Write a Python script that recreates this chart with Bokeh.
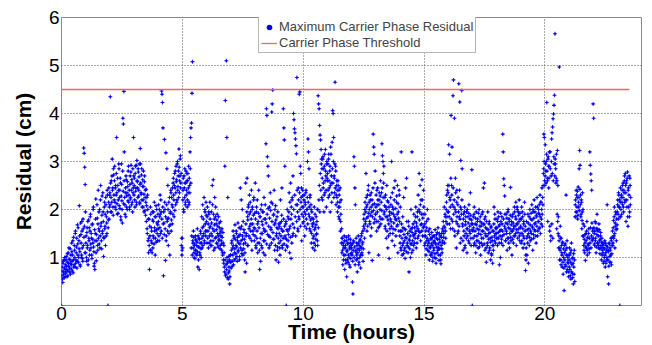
from bokeh.plotting import figure
from bokeh.models import Range1d, FixedTicker, Legend, LegendItem, ColumnDataSource
from bokeh.embed import file_html
from bokeh.resources import INLINE

# Maximum carrier phase residual (cm).
# Two interleaved series per hour, 50 samples each (a: on the 0.02 h grid, b: offset by 0.01 h)
h00 = [0.00, 0.72, 0.55, 0.88, 0.65, 0.95, 0.78, 0.60, 0.85, 0.70,
       1.02, 0.75, 0.90, 0.62, 1.10, 0.82, 0.97, 0.70, 1.18, 0.88,
       0.76, 1.30, 0.92, 1.05, 0.68, 1.42, 0.85, 1.15, 0.80, 1.55,
       0.95, 1.22, 0.78, 1.68, 1.05, 0.90, 1.35, 2.08, 1.12, 0.82,
       1.48, 1.00, 1.75, 1.20, 0.92, 1.60, 3.28, 3.17, 2.88, 2.52]
h01 = [1.10, 1.45, 0.92, 1.62, 1.25, 0.85, 1.78, 1.35, 1.05, 1.55,
       1.90, 1.20, 1.40, 0.98, 1.70, 1.30, 2.05, 1.12, 0.88, 0.75,
       1.50, 2.22, 0.93, 1.35, 1.82, 1.15, 2.40, 1.60, 1.28, 2.00,
       1.45, 2.50, 1.72, 1.18, 2.28, 1.55, 1.95, 1.02, 1.40, 2.15,
       1.65, 1.25, 2.10, 1.85, 1.50, 2.30, 0.00, 1.78, 2.45, 2.05]
h02 = [2.35, 4.35, 1.95, 2.60, 2.15, 3.05, 2.45, 1.88, 2.72, 2.20,
       2.90, 2.05, 2.50, 2.30, 3.50, 2.12, 2.65, 1.92, 2.40, 2.85,
       2.25, 2.02, 2.55, 1.78, 2.95, 2.18, 1.72, 3.90, 3.78, 4.46,
       3.20, 2.10, 2.35, 1.85, 2.62, 2.28, 2.00, 2.48, 2.80, 2.15,
       2.40, 2.05, 2.70, 2.25, 2.92, 2.10, 2.55, 1.95, 2.35, 3.50]
h03 = [2.30, 2.65, 2.05, 2.90, 2.45, 2.15, 3.02, 2.58, 2.25, 2.78,
       2.40, 2.95, 2.12, 3.27, 2.55, 2.32, 2.85, 2.05, 2.62, 2.20,
       2.48, 1.95, 2.70, 2.25, 1.88, 2.42, 2.08, 1.60, 2.30, 1.35,
       1.10, 1.80, 0.75, 1.45, 2.05, 1.15, 1.62, 1.30, 1.95, 1.20,
       1.75, 1.40, 2.15, 1.55, 1.05, 1.85, 1.32, 2.00, 1.50, 1.68]
h04 = [1.60, 2.10, 1.35, 1.85, 2.30, 1.50, 1.95, 4.47, 4.40, 4.23,
       3.70, 0.62, 1.72, 3.46, 2.00, 0.94, 3.18, 1.45, 2.85, 1.80,
       2.50, 1.25, 2.15, 1.65, 1.05, 1.92, 2.40, 1.55, 2.25, 1.70,
       2.05, 2.55, 2.30, 1.85, 2.75, 2.45, 2.10, 2.90, 2.62, 2.20,
       3.00, 2.48, 2.80, 3.26, 2.35, 2.70, 3.12, 2.55, 1.25, 1.05]
h05 = [1.40, 2.20, 2.65, 1.95, 2.45, 2.85, 2.10, 2.55, 2.30, 2.75,
       2.05, 2.60, 2.35, 2.90, 2.15, 2.50, 3.20, 3.50, 3.70, 3.80,
       4.42, 5.08, 1.30, 1.55, 1.10, 1.25, 0.98, 1.45, 1.15, 1.35,
       1.05, 1.60, 0.80, 1.22, 1.40, 0.75, 1.10, 1.30, 1.50, 1.00,
       1.85, 1.20, 2.10, 1.45, 1.65, 2.25, 1.30, 1.95, 1.55, 2.15]
h06 = [1.75, 1.30, 2.05, 1.55, 1.20, 1.90, 1.45, 2.15, 1.65, 1.35,
       1.95, 1.25, 2.50, 1.60, 2.62, 1.15, 1.80, 2.25, 1.40, 2.05,
       1.70, 1.30, 1.90, 1.50, 1.22, 1.85, 1.38, 1.62, 1.18, 1.75,
       1.45, 1.28, 1.60, 1.10, 1.52, 0.95, 1.25, 0.80, 2.90, 4.27,
       0.65, 5.10, 3.50, 0.88, 2.25, 0.55, 1.02, 0.72, 0.45, 0.90]
h07 = [1.05, 0.78, 1.30, 0.92, 1.20, 1.55, 0.85, 1.40, 1.10, 1.68,
       0.98, 1.25, 1.50, 1.02, 1.35, 1.72, 1.15, 1.45, 0.95, 1.28,
       2.45, 1.60, 2.20, 1.08, 2.00, 1.38, 1.75, 1.18, 1.52, 0.95,
       0.70, 2.55, 1.45, 0.88, 2.65, 1.85, 1.25, 2.10, 1.60, 2.30,
       1.40, 1.95, 1.70, 2.40, 1.15, 2.05, 1.55, 1.88, 2.25, 1.35]
h08 = [1.60, 2.55, 1.25, 1.95, 1.40, 2.20, 1.10, 1.75, 2.40, 1.30,
       0.75, 1.85, 0.92, 1.50, 2.10, 1.20, 1.68, 1.95, 1.35, 2.25,
       1.55, 1.05, 1.80, 3.37, 4.10, 3.96, 3.10, 2.90, 2.70, 1.45,
       2.05, 1.25, 2.35, 1.62, 2.15, 4.03, 4.20, 4.49, 1.38, 1.90,
       2.40, 1.15, 1.72, 2.08, 0.95, 1.50, 1.85, 1.22, 1.60, 0.90]
h09 = [1.30, 1.65, 1.05, 2.20, 1.45, 1.75, 2.45, 1.20, 1.55, 4.10,
       3.70, 3.45, 2.90, 1.40, 1.70, 0.00, 1.25, 2.00, 1.55, 1.35,
       1.80, 2.35, 1.10, 1.65, 2.55, 0.98, 1.90, 2.20, 1.45, 2.70,
       4.00, 3.87, 3.68, 3.60, 3.47, 3.33, 3.16, 4.75, 2.10, 1.60,
       2.45, 1.85, 4.40, 4.45, 2.90, 2.75, 2.25, 1.35, 2.05, 2.40]
h10 = [2.05, 1.75, 2.30, 1.45, 2.15, 1.90, 2.40, 1.60, 2.00, 3.00,
       3.47, 3.20, 2.85, 1.85, 2.25, 1.55, 2.10, 1.30, 1.95, 1.70,
       1.20, 1.80, 1.45, 2.05, 1.15, 1.62, 1.38, 1.85, 1.50, 2.00,
       1.25, 4.37, 4.20, 4.10, 3.75, 3.55, 3.45, 3.25, 3.05, 2.85,
       2.20, 3.10, 2.55, 1.95, 2.90, 2.35, 3.25, 2.70, 2.05, 3.00]
h11 = [2.60, 2.95, 2.25, 3.15, 2.45, 2.80, 1.95, 3.30, 2.55, 2.15,
       3.40, 4.06, 4.00, 3.50, 2.70, 2.35, 4.65, 2.90, 2.10, 2.50,
       2.25, 1.95, 2.60, 2.05, 2.40, 1.80, 2.15, 1.55, 1.90, 1.30,
       1.10, 1.40, 0.85, 1.25, 1.05, 1.45, 0.75, 1.20, 0.95, 1.35,
       0.60, 1.15, 1.30, 0.90, 1.45, 1.00, 1.22, 0.80, 1.38, 1.08]
h12 = [1.20, 1.05, 0.49, 0.24, 1.35, 3.10, 2.90, 2.45, 2.10, 1.15,
       0.95, 1.30, 0.70, 1.10, 1.45, 0.85, 1.25, 1.00, 1.38, 0.78,
       1.20, 1.50, 1.05, 1.32, 0.92, 1.65, 1.90, 1.40, 2.15, 1.75,
       2.75, 2.05, 1.55, 2.30, 1.85, 2.50, 1.10, 2.00, 1.70, 2.20,
       1.45, 2.35, 1.95, 0.94, 2.10, 3.57, 3.30, 3.15, 1.80, 2.80]
h13 = [1.90, 2.30, 1.55, 2.10, 2.45, 1.75, 1.05, 2.20, 1.65, 2.00,
       2.60, 1.80, 2.35, 3.37, 3.12, 3.00, 2.75, 2.90, 1.95, 2.25,
       1.60, 2.05, 1.40, 2.50, 1.85, 1.20, 2.15, 1.70, 0.98, 1.95,
       1.50, 2.25, 1.75, 3.00, 1.35, 2.05, 1.60, 1.90, 2.45, 1.25,
       2.60, 1.80, 1.45, 2.15, 1.65, 2.50, 1.10, 1.95, 1.55, 2.30]
h14 = [1.45, 2.05, 1.20, 3.20, 1.55, 1.05, 1.85, 1.30, 2.25, 1.15,
       1.60, 0.98, 2.45, 1.40, 2.65, 1.25, 1.50, 1.10, 1.75, 0.70,
       1.35, 1.55, 1.00, 2.00, 1.28, 3.20, 1.62, 1.15, 1.45, 1.90,
       1.30, 1.75, 1.50, 2.05, 1.20, 1.65, 1.85, 1.40, 2.30, 1.55,
       2.75, 1.95, 2.50, 1.35, 2.20, 1.70, 2.62, 1.45, 1.90, 2.40]
h15 = [1.65, 1.25, 1.90, 1.45, 1.05, 1.75, 1.35, 2.00, 1.15, 1.55,
       1.30, 0.95, 1.60, 1.20, 1.40, 1.05, 1.52, 1.25, 0.92, 1.45,
       1.15, 1.35, 1.00, 1.58, 1.28, 0.88, 1.48, 1.10, 1.38, 1.62,
       1.20, 0.94, 1.50, 1.32, 1.05, 0.87, 1.42, 1.18, 1.60, 1.30,
       1.75, 1.50, 2.05, 1.62, 1.85, 1.40, 2.00, 2.30, 1.70, 2.50]
h16 = [2.35, 3.35, 1.85, 3.15, 2.20, 1.60, 3.96, 2.50, 3.30, 1.75,
       4.37, 4.70, 2.05, 3.90, 1.45, 2.65, 1.95, 1.20, 2.40, 1.70,
       2.10, 1.55, 4.62, 1.85, 4.24, 1.30, 3.02, 2.00, 4.48, 2.85,
       1.65, 1.15, 1.90, 1.45, 2.05, 1.25, 1.75, 1.50, 1.95, 1.10,
       1.60, 1.85, 1.35, 2.10, 1.55, 1.80, 2.35, 1.40, 1.70, 2.83]
h17 = [0.00, 1.55, 1.85, 1.25, 2.05, 1.45, 1.70, 1.10, 1.95, 1.35,
       1.60, 1.80, 1.20, 1.50, 2.00, 1.30, 1.75, 1.05, 1.65, 1.40,
       1.90, 1.25, 1.55, 2.45, 1.70, 2.55, 1.15, 1.85, 1.45, 0.90,
       1.60, 1.30, 1.95, 1.10, 1.50, 1.75, 1.20, 1.40, 0.95, 1.65,
       1.05, 1.35, 0.88, 1.55, 1.25, 2.05, 1.45, 1.80, 1.30, 1.60]
h18 = [1.50, 1.80, 1.25, 1.95, 1.40, 1.65, 0.85, 1.55, 1.00, 1.75,
       1.30, 1.85, 1.45, 3.57, 3.20, 2.64, 2.50, 2.28, 1.60, 1.35,
       1.90, 1.50, 1.15, 1.70, 2.00, 1.40, 1.80, 1.20, 1.60, 2.46,
       1.35, 1.75, 1.05, 1.55, 1.90, 1.30, 1.65, 2.05, 1.45, 1.85,
       2.15, 1.25, 1.70, 2.00, 1.40, 1.95, 1.60, 2.20, 1.35, 1.80]
h19 = [1.65, 1.30, 2.05, 1.50, 1.85, 1.20, 1.70, 1.40, 2.15, 1.55,
       0.73, 0.95, 1.75, 1.05, 1.45, 1.90, 0.88, 1.60, 1.25, 2.00,
       1.35, 1.80, 1.50, 2.10, 1.65, 1.15, 1.95, 1.40, 2.20, 1.70,
       1.55, 2.05, 1.30, 1.85, 2.25, 1.45, 1.75, 2.00, 1.60, 1.90,
       2.30, 1.50, 2.15, 1.80, 2.45, 1.65, 2.10, 2.75, 3.57, 3.50]
h20 = [2.50, 3.35, 2.80, 3.00, 4.23, 2.65, 1.75, 3.10, 2.45, 2.90,
       1.55, 3.20, 1.35, 2.70, 3.47, 3.60, 3.72, 3.89, 3.99, 4.17,
       4.38, 5.66, 2.95, 2.55, 3.15, 2.60, 3.23, 2.50, 1.85, 1.45,
       4.97, 1.20, 1.65, 0.95, 1.40, 1.10, 0.80, 1.30, 0.65, 1.00,
       0.31, 1.25, 0.85, 1.15, 2.30, 0.70, 1.35, 0.90, 1.05, 0.60]
h21 = [0.95, 1.20, 0.75, 1.10, 0.55, 1.30, 0.85, 0.66, 1.00, 0.45,
       0.80, 1.15, 0.50, 2.10, 1.85, 2.40, 1.95, 2.25, 1.80, 2.47,
       2.05, 2.85, 3.23, 2.92, 2.30, 1.90, 2.15, 1.77, 2.35, 2.00,
       1.45, 1.15, 1.65, 1.30, 0.94, 1.50, 1.20, 1.75, 1.05, 1.40,
       1.25, 1.60, 1.10, 3.20, 2.92, 2.74, 2.60, 2.40, 1.35, 1.55]
h22 = [4.20, 3.90, 1.50, 1.25, 1.75, 1.40, 1.10, 1.60, 1.90, 1.30,
       1.55, 1.20, 1.70, 1.35, 1.08, 1.45, 1.25, 0.95, 1.40, 1.15,
       1.30, 0.88, 1.20, 1.00, 1.35, 0.80, 1.10, 1.25, 0.95, 2.10,
       0.60, 1.15, 0.45, 1.30, 0.90, 1.20, 1.05, 1.40, 0.85, 1.25,
       1.55, 1.30, 1.77, 1.45, 2.05, 1.20, 1.65, 1.90, 1.35, 1.60]
h23 = [1.95, 2.20, 1.80, 2.30, 2.05, 0.00, 2.15, 1.85, 2.25, 1.90,
       2.40, 2.10, 2.55, 1.95, 2.35, 2.70, 2.20, 2.50, 1.75, 2.60,
       2.05, 2.78, 1.65, 2.45, 2.30, 1.85, 2.65, 2.10]

h00b = [0.62, 0.80, 0.48, 0.92, 0.70, 0.58, 1.00, 0.75, 0.66, 0.95,
        0.82, 0.60, 1.08, 0.72, 0.88, 1.20, 0.78, 0.95, 0.65, 1.05,
        0.85, 1.12, 0.72, 1.35, 0.95, 0.80, 1.25, 1.00, 1.50, 0.88,
        1.10, 1.40, 0.92, 1.28, 1.62, 1.00, 1.18, 1.45, 0.85, 1.72,
        1.30, 1.05, 1.55, 0.98, 1.80, 1.25, 1.42, 1.65, 1.10, 1.95]
h01b = [1.30, 1.00, 1.52, 1.20, 1.75, 0.95, 1.40, 1.62, 1.15, 1.85,
        1.28, 1.50, 1.05, 1.68, 1.38, 2.00, 1.22, 0.82, 1.58, 1.35,
        1.80, 1.10, 1.48, 2.10, 1.25, 1.70, 1.40, 1.95, 1.55, 1.20,
        2.20, 1.65, 1.35, 1.88, 1.50, 2.35, 1.75, 1.42, 2.05, 1.60,
        1.90, 2.25, 1.45, 1.72, 2.40, 1.95, 1.62, 2.15, 1.80, 2.30]
h02b = [2.10, 2.55, 2.25, 1.95, 2.70, 2.40, 2.05, 2.85, 2.30, 2.60,
        2.15, 2.45, 2.00, 2.75, 2.35, 1.90, 2.50, 2.20, 2.95, 2.08,
        2.40, 2.65, 1.85, 2.28, 2.52, 2.00, 2.80, 2.38, 2.12, 2.60,
        2.25, 1.90, 2.45, 2.70, 2.05, 2.35, 2.58, 2.18, 2.90, 2.30,
        2.00, 2.52, 2.22, 2.78, 2.40, 2.62, 2.15, 2.85, 2.45, 2.70]
h03b = [2.50, 2.20, 2.75, 2.38, 2.92, 2.10, 2.60, 2.45, 2.85, 2.28,
        2.68, 2.15, 2.52, 2.95, 2.35, 2.72, 2.20, 2.48, 2.05, 2.80,
        2.32, 2.58, 1.98, 2.40, 2.15, 1.75, 2.25, 1.50, 2.00, 1.80,
        1.40, 1.25, 1.65, 1.15, 1.90, 1.35, 1.55, 1.10, 1.78, 1.45,
        1.95, 1.28, 1.62, 1.85, 1.40, 2.08, 1.58, 1.72, 1.35, 1.90]
h04b = [1.75, 1.45, 2.00, 1.62, 1.90, 2.20, 1.55, 1.80, 1.40, 2.05,
        1.70, 1.95, 1.48, 2.15, 1.60, 1.85, 1.35, 2.10, 1.75, 1.55,
        2.00, 1.82, 1.50, 2.25, 1.68, 1.95, 2.35, 1.78, 2.10, 2.45,
        1.90, 2.65, 2.20, 2.50, 1.98, 2.80, 2.35, 2.58, 2.15, 2.95,
        2.40, 2.70, 2.25, 2.88, 2.60, 3.05, 2.45, 2.75, 1.40, 1.15]
h05b = [1.20, 2.40, 2.00, 2.70, 2.25, 2.55, 2.15, 2.80, 2.40, 2.60,
        2.20, 2.75, 2.45, 2.10, 2.65, 2.35, 2.85, 2.55, 1.20, 1.45,
        1.05, 1.35, 1.20, 1.42, 1.00, 1.28, 1.15, 1.38, 1.08, 1.25,
        1.32, 1.12, 1.45, 0.95, 1.22, 1.38, 1.05, 1.55, 1.18, 1.30,
        1.40, 1.62, 1.25, 1.80, 1.50, 1.35, 2.00, 1.70, 1.45, 1.88]
h06b = [1.55, 1.85, 1.40, 1.70, 1.95, 1.30, 1.62, 1.80, 1.25, 1.50,
        1.72, 1.45, 2.10, 1.35, 1.90, 1.55, 1.68, 1.20, 1.85, 1.42,
        1.58, 1.78, 1.28, 1.65, 1.45, 1.35, 1.72, 1.50, 1.25, 1.55,
        1.35, 1.15, 1.42, 1.05, 1.30, 0.88, 1.10, 0.70, 0.95, 0.62,
        0.85, 0.75, 1.00, 0.58, 0.92, 0.68, 0.80, 0.95, 0.60, 1.05]
h07b = [0.90, 1.15, 1.35, 0.82, 1.05, 1.25, 1.45, 0.95, 1.18, 1.38,
        1.08, 1.55, 1.22, 0.92, 1.42, 1.12, 1.30, 1.62, 1.02, 1.48,
        1.20, 1.35, 1.65, 1.15, 1.45, 1.05, 1.28, 1.58, 1.38, 1.10,
        1.30, 1.70, 1.50, 1.95, 1.25, 1.78, 2.05, 1.45, 1.90, 1.65,
        2.15, 1.55, 1.80, 1.35, 2.00, 1.70, 1.48, 2.20, 1.62, 1.92]
h08b = [1.45, 1.80, 1.20, 2.05, 1.55, 1.70, 1.30, 1.92, 1.62, 1.15,
        1.85, 1.40, 2.00, 1.25, 1.75, 1.50, 1.95, 1.10, 1.60, 1.80,
        1.35, 2.10, 1.55, 1.72, 1.28, 1.90, 1.48, 2.02, 1.65, 1.20,
        1.82, 1.42, 1.98, 1.58, 1.30, 1.75, 2.12, 1.52, 1.88, 1.38,
        1.68, 2.00, 1.25, 1.78, 1.45, 1.62, 1.15, 1.95, 1.40, 1.70]
h09b = [1.50, 1.20, 1.72, 1.35, 1.60, 1.88, 1.25, 1.55, 1.40, 1.80,
        1.28, 1.65, 1.45, 1.15, 1.75, 1.38, 1.58, 1.22, 1.85, 1.48,
        1.95, 1.60, 2.15, 1.42, 1.80, 2.05, 1.30, 2.25, 1.70, 1.50,
        2.00, 1.62, 2.30, 1.85, 1.45, 2.10, 1.75, 2.40, 1.95, 1.55,
        2.20, 1.80, 2.35, 2.00, 1.65, 2.15, 2.45, 1.90, 2.28, 1.72]
h10b = [1.85, 2.20, 1.95, 1.65, 2.10, 2.35, 1.80, 2.00, 2.25, 1.70,
        2.15, 1.90, 2.05, 1.60, 2.30, 1.78, 2.00, 1.50, 1.82, 1.65,
        1.40, 1.72, 1.30, 1.58, 1.90, 1.25, 1.68, 1.48, 1.75, 1.35,
        2.00, 1.62, 2.20, 2.50, 1.95, 2.75, 2.40, 2.95, 2.25, 2.65,
        3.05, 2.45, 2.85, 2.30, 3.15, 2.60, 2.80, 2.40, 2.95, 2.65]
h11b = [2.75, 2.40, 3.05, 2.60, 2.30, 2.90, 2.50, 3.15, 2.70, 2.35,
        2.85, 2.55, 3.00, 2.25, 2.65, 2.95, 2.45, 2.80, 2.30, 2.60,
        2.40, 2.15, 2.50, 1.85, 2.30, 2.05, 2.45, 1.75, 2.20, 1.60,
        1.40, 1.15, 1.30, 0.95, 1.20, 1.35, 1.05, 1.25, 0.88, 1.42,
        1.12, 0.95, 1.28, 1.05, 1.38, 0.85, 1.18, 1.30, 0.98, 1.25]
h12b = [1.10, 1.28, 0.92, 1.15, 1.32, 1.00, 1.22, 0.85, 1.12, 1.40,
        1.05, 1.25, 0.98, 1.18, 1.30, 0.90, 1.15, 1.35, 1.05, 1.22,
        1.45, 1.10, 1.28, 1.55, 1.18, 1.80, 1.60, 2.00, 1.70, 1.95,
        2.25, 1.82, 2.10, 1.65, 2.40, 1.92, 2.15, 1.75, 2.30, 1.88,
        2.05, 1.62, 2.20, 1.85, 2.45, 1.98, 1.72, 2.12, 2.55, 1.90]
h13b = [2.05, 1.75, 2.40, 1.95, 2.20, 1.62, 2.10, 2.35, 1.85, 2.28,
        1.70, 2.15, 1.98, 2.45, 1.80, 2.25, 2.55, 1.90, 2.08, 1.65,
        2.30, 1.85, 2.00, 1.55, 2.18, 1.78, 1.45, 2.05, 1.88, 1.60,
        1.80, 2.10, 1.65, 1.92, 2.35, 1.50, 2.00, 1.72, 2.20, 1.85,
        1.58, 2.02, 1.78, 2.28, 1.90, 1.68, 2.12, 1.82, 2.40, 1.75]
h14b = [1.30, 1.55, 1.15, 1.70, 1.40, 1.25, 1.62, 1.08, 1.48, 1.35,
        1.20, 1.58, 1.42, 1.12, 1.75, 1.30, 1.50, 1.22, 1.65, 1.38,
        1.18, 1.45, 1.28, 1.60, 1.10, 1.52, 1.35, 1.70, 1.25, 1.48,
        1.62, 1.40, 1.85, 1.55, 1.72, 1.30, 1.95, 1.60, 1.45, 2.00,
        1.78, 1.52, 2.10, 1.68, 1.90, 1.55, 2.20, 1.82, 1.62, 2.05]
h15b = [1.45, 1.70, 1.30, 1.55, 1.18, 1.62, 1.40, 1.25, 1.80, 1.35,
        1.12, 1.48, 1.22, 1.05, 1.38, 1.28, 1.10, 1.42, 1.00, 1.32,
        1.20, 1.45, 1.08, 1.30, 0.98, 1.40, 1.22, 1.52, 1.15, 1.28,
        1.05, 1.38, 1.18, 1.45, 0.95, 1.25, 1.50, 1.10, 1.35, 1.55,
        1.42, 1.65, 1.30, 1.90, 1.55, 1.75, 2.15, 1.85, 2.40, 1.95]
h16b = [1.95, 2.50, 1.70, 2.25, 2.05, 2.65, 1.80, 2.30, 2.10, 1.60,
        2.45, 1.90, 2.20, 1.55, 2.00, 2.35, 1.75, 2.15, 1.85, 1.50,
        2.25, 1.95, 1.65, 2.40, 1.80, 2.05, 1.40, 1.90, 2.20, 1.70,
        1.35, 1.80, 1.55, 1.95, 1.20, 1.68, 1.85, 1.40, 1.60, 2.00,
        1.45, 1.72, 1.92, 1.30, 1.65, 1.50, 1.88, 1.25, 1.78, 1.58]
h17b = [1.70, 1.40, 1.62, 1.90, 1.30, 1.55, 1.82, 1.25, 1.68, 1.45,
        1.75, 1.35, 1.92, 1.58, 1.22, 1.65, 1.85, 1.48, 1.30, 1.72,
        1.55, 1.95, 1.40, 1.68, 1.28, 1.80, 1.50, 1.62, 1.20, 1.75,
        1.45, 1.25, 1.58, 1.38, 1.70, 1.15, 1.52, 1.32, 1.62, 1.08,
        1.42, 1.25, 1.55, 1.15, 1.70, 1.35, 1.90, 1.50, 1.62, 1.40]
h18b = [1.62, 1.40, 1.75, 1.52, 1.85, 1.30, 1.68, 1.45, 1.92, 1.58,
        1.38, 1.70, 1.55, 1.25, 1.80, 1.48, 1.65, 1.90, 1.35, 1.72,
        1.55, 1.82, 1.40, 1.95, 1.62, 1.30, 1.75, 1.50, 1.88, 1.42,
        1.68, 1.55, 1.85, 1.38, 1.72, 1.60, 1.45, 1.95, 1.65, 1.50,
        1.80, 1.58, 2.05, 1.70, 1.52, 1.88, 1.75, 1.45, 1.92, 1.62]
h19b = [1.50, 1.80, 1.35, 1.95, 1.60, 1.45, 1.75, 1.28, 1.90, 1.65,
        1.05, 1.20, 1.40, 1.58, 1.30, 1.72, 1.50, 1.85, 1.42, 1.68,
        1.55, 1.92, 1.38, 1.78, 1.62, 2.00, 1.48, 1.82, 1.58, 1.95,
        1.72, 1.45, 1.88, 1.65, 2.05, 1.55, 1.92, 1.75, 2.10, 1.62,
        1.85, 2.15, 1.70, 2.00, 1.90, 2.25, 2.50, 2.85, 3.00, 2.60]
h20b = [2.70, 2.95, 2.55, 3.15, 2.80, 2.60, 3.05, 2.90, 2.65, 3.20,
        1.65, 2.85, 1.45, 3.00, 1.70, 2.75, 1.40, 2.60, 3.10, 2.95,
        2.70, 3.05, 2.85, 2.65, 1.60, 1.90, 1.75, 1.50, 1.20, 1.35,
        0.95, 1.15, 1.40, 0.85, 1.25, 1.05, 1.32, 0.90, 1.18, 0.78,
        1.10, 0.95, 1.28, 0.82, 1.05, 1.20, 0.75, 1.00, 0.88, 0.70]
h21b = [0.80, 1.05, 0.62, 0.90, 1.15, 0.70, 0.98, 0.58, 0.88, 1.08,
        0.65, 0.95, 1.85, 2.20, 1.95, 2.30, 2.05, 2.38, 1.88, 2.15,
        2.25, 1.98, 2.42, 2.10, 1.85, 2.20, 1.60, 1.95, 1.45, 1.70,
        1.25, 1.38, 1.10, 1.48, 1.22, 1.35, 1.55, 1.15, 1.42, 1.28,
        1.50, 1.18, 1.40, 1.30, 1.62, 1.20, 1.45, 1.72, 1.38, 1.60]
h22b = [1.40, 1.62, 1.28, 1.55, 1.35, 1.72, 1.22, 1.48, 1.60, 1.30,
        1.45, 1.25, 1.58, 1.18, 1.38, 1.52, 1.20, 1.32, 1.05, 1.25,
        1.10, 1.28, 0.92, 1.18, 1.05, 1.30, 0.88, 1.15, 1.00, 1.22,
        0.95, 1.12, 0.82, 1.28, 1.02, 1.15, 0.90, 1.35, 1.08, 1.42,
        1.25, 1.62, 1.40, 1.85, 1.50, 1.72, 1.95, 1.58, 1.80, 1.68]
h23b = [2.10, 1.90, 2.35, 2.05, 2.20, 1.85, 2.45, 2.00, 2.30, 2.15,
        2.50, 2.25, 2.05, 2.40, 2.60, 2.15, 2.75, 2.35, 2.55, 2.20,
        2.65, 1.85, 2.40, 2.05, 2.70, 1.95, 2.50, 2.25]

hours_a = [h00, h01, h02, h03, h04, h05, h06, h07, h08, h09, h10, h11,
           h12, h13, h14, h15, h16, h17, h18, h19, h20, h21, h22, h23]
hours_b = [h00b, h01b, h02b, h03b, h04b, h05b, h06b, h07b, h08b, h09b, h10b, h11b,
           h12b, h13b, h14b, h15b, h16b, h17b, h18b, h19b, h20b, h21b, h22b, h23b]
sample_step = 0.02  # hours between samples of one series

threshold_t = [0.0, 23.5]
threshold_y = [4.5, 4.5]

x_ticks = [0, 5, 10, 15, 20]
y_ticks = [1, 2, 3, 4, 5, 6]

t_vals, r_vals = [], []
for offset, series in ((0.0, hours_a), (0.01, hours_b)):
    for hi, vals in enumerate(series):
        for k, v in enumerate(vals):
            t_vals.append(hi + k * sample_step + offset)
            r_vals.append(v)

src = ColumnDataSource(dict(t=t_vals, r=r_vals))

p = figure(width=652, height=345, output_backend="svg", toolbar_location=None,
           x_range=Range1d(0, 24), y_range=Range1d(0, 6))
p.min_border_left = 61
p.min_border_right = 11
p.min_border_top = 17
p.min_border_bottom = 40
p.background_fill_color = "white"
p.border_fill_color = "white"
p.outline_line_color = "#8a8a8a"
p.outline_line_width = 1

for g in (p.xgrid, p.ygrid):
    g.grid_line_color = "#555555"
    g.grid_line_dash = "1 2"
    g.grid_line_width = 1

pts = p.scatter("t", "r", source=src, marker="cross", size=4, line_width=1.1,
                line_color="#0000ff", line_alpha=0.85)
pts2 = p.scatter("t", "r", source=src, marker="circle", size=2.0, line_color=None,
                 fill_color="#0000ff", fill_alpha=1.0)
thr = p.line(x=threshold_t, y=threshold_y, line_color="#ff6060", line_alpha=1.0,
             line_width=1.3)

p.xaxis.ticker = FixedTicker(ticks=x_ticks)
p.yaxis.ticker = FixedTicker(ticks=y_ticks)
for ax in (p.xaxis[0], p.yaxis[0]):
    ax.axis_line_color = None
    ax.major_tick_line_color = None
    ax.minor_tick_line_color = None
    ax.major_tick_out = 0
    ax.major_tick_in = 0
    ax.minor_tick_out = 0
    ax.minor_tick_in = 0
    ax.major_label_text_font = "Liberation Sans"
    ax.major_label_text_font_size = "19px"
    ax.major_label_text_color = "black"
    ax.axis_label_text_font = "Liberation Sans"
    ax.axis_label_text_font_style = "bold"
    ax.axis_label_text_font_size = "21px"
    ax.axis_label_text_color = "black"
p.xaxis.axis_label = "Time (hours)"
p.yaxis.axis_label = "Residual (cm)"
p.xaxis.major_label_standoff = 1
p.xaxis.axis_label_standoff = -3
p.yaxis.major_label_standoff = 2
p.yaxis.axis_label_standoff = 11

legend = Legend(items=[
    LegendItem(label="Maximum Carrier Phase Residual", renderers=[pts2]),
    LegendItem(label="Carrier Phase Threshold", renderers=[thr]),
], location=(197, 252))
legend.label_text_font = "Liberation Sans"
legend.label_text_font_size = "13px"
legend.label_height = 14
legend.glyph_height = 14
legend.glyph_width = 16
legend.spacing = 1
legend.padding = 2
legend.margin = 0
legend.label_standoff = 2
legend.border_line_color = "#707070"
legend.background_fill_alpha = 1
p.add_layout(legend)

open("out.html", "w").write(file_html(p, INLINE))
